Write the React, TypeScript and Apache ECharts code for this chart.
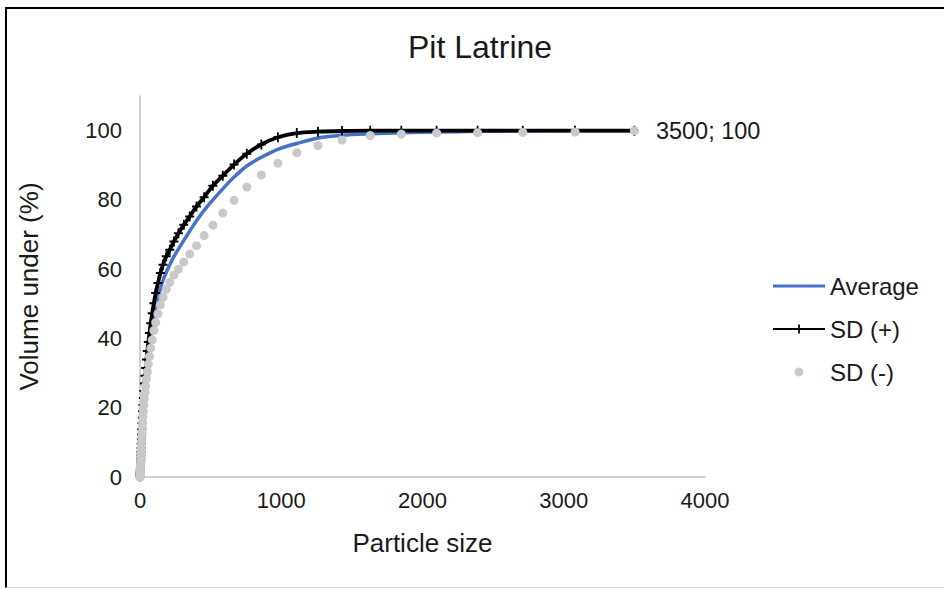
import React, { useEffect, useRef } from "react";
import * as echarts from "echarts";

const particleSize = [0.523, 0.594, 0.675, 0.767, 0.872, 0.991, 1.13, 1.28, 1.45, 1.65, 1.88, 2.13, 2.42, 2.75, 3.12, 3.55, 4.03, 4.58, 5.21, 5.92, 6.72, 7.64, 8.68, 9.86, 11.2, 12.7, 14.5, 16.4, 18.7, 21.2, 24.1, 27.4, 31.1, 35.3, 40.1, 45.6, 51.8, 58.9, 66.9, 76.0, 86.4, 98.1, 111, 127, 144, 163, 186, 211, 240, 272, 310, 352, 400, 454, 516, 586, 666, 756, 859, 976, 1110, 1260, 1430, 1630, 1850, 2100, 2390, 2710, 3080, 3500];

const averageValues = [0, 0, 0.03, 0.06, 0.12, 0.2, 0.3, 0.45, 0.6, 0.8, 1.0, 1.3, 1.6, 2.0, 2.5, 3.0, 3.6, 4.3, 5.0, 5.8, 6.7, 7.7, 8.8, 10.0, 11.3, 12.7, 14.2, 15.8, 17.4, 19.1, 20.9, 22.8, 24.8, 26.8, 28.9, 31.1, 33.4, 35.8, 38.2, 40.8, 43.4, 46.1, 48.8, 51.6, 54.3, 56.8, 59.1, 61.3, 63.6, 65.8, 68.3, 71.0, 74.0, 77.0, 80.0, 83.2, 86.6, 89.8, 92.3, 94.6, 96.3, 97.9, 98.7, 99.1, 99.4, 99.6, 99.8, 99.9, 100, 100];

const sdPlusValues = [0, 0, 0.04, 0.08, 0.15, 0.25, 0.35, 0.5, 0.7, 0.9, 1.1, 1.4, 1.7, 2.2, 2.7, 3.3, 3.9, 4.7, 5.4, 6.3, 7.3, 8.4, 9.6, 10.9, 12.3, 13.8, 15.5, 17.2, 19.0, 20.8, 22.8, 24.8, 27.0, 29.2, 31.5, 33.9, 36.4, 39.0, 41.6, 44.4, 47.3, 50.2, 53.1, 56.0, 58.9, 61.3, 63.7, 65.6, 68.0, 70.4, 72.8, 75.2, 78.1, 80.8, 84.1, 87.0, 90.2, 93.3, 96.0, 98.1, 99.3, 99.7, 99.9, 100, 100, 100, 100, 100, 100, 100];

const sdMinusValues = [0, 0, 0.02, 0.05, 0.1, 0.15, 0.25, 0.4, 0.5, 0.7, 0.9, 1.2, 1.5, 1.8, 2.3, 2.7, 3.3, 3.9, 4.6, 5.3, 6.1, 7.0, 8.0, 9.1, 10.3, 11.6, 12.9, 14.4, 15.8, 17.4, 19.0, 20.8, 22.6, 24.4, 26.3, 28.3, 30.4, 32.6, 34.8, 37.2, 39.6, 42.3, 44.6, 47.1, 49.7, 51.9, 54.2, 56.2, 58.3, 60.0, 62.1, 64.4, 66.8, 69.7, 72.7, 76.2, 79.9, 83.7, 87.2, 90.6, 93.6, 95.7, 97.3, 98.6, 99.0, 99.3, 99.4, 99.5, 99.6, 100];

const seriesNames = ["Average", "SD (+)", "SD (-)"];
const chartTitle = "Pit Latrine";
const xAxisTitle = "Particle size";
const yAxisTitle = "Volume under (%)";

const FONT = "'Liberation Sans', Arial, sans-serif";
const TEXT = "#1a1a1a";
const PLUS = "path://M4,0 h2 v4 h4 v2 h-4 v4 h-2 v-4 h-4 v-2 h4 z";
const LINE_ICON = "path://M0,0 H52 V3 H0 Z";

export default function App() {
  const ref = useRef<HTMLDivElement>(null);

  useEffect(() => {
    if (!ref.current) return;
    const chart = echarts.init(ref.current, undefined, { renderer: "svg" });
    const pairs = (vals: number[]) => particleSize.map((x, i) => [x, vals[i]]);
    const minusData: any[] = pairs(sdMinusValues);
    const last = minusData.length - 1;
    minusData[last] = {
      value: minusData[last],
      label: {
        show: true,
        position: "right",
        distance: 17,
        formatter: (p: any) => `${p.value[0]}; ${p.value[1]}`,
        fontSize: 23.5,
        fontFamily: FONT,
        color: TEXT,
      },
    };

    chart.setOption({
      animation: false,
      backgroundColor: "#ffffff",
      textStyle: { fontFamily: FONT, color: TEXT },
      title: {
        text: chartTitle,
        left: 408,
        top: 31,
        padding: 0,
        textStyle: { fontSize: 32, fontWeight: "normal", color: TEXT, fontFamily: FONT },
      },
      grid: { left: 140, right: 239, top: 96, bottom: 112, containLabel: false },
      legend: {
        orient: "vertical",
        left: 772,
        top: 274,
        padding: 0,
        itemWidth: 52,
        itemHeight: 11,
        itemGap: 19,
        data: [
          { name: seriesNames[0], icon: LINE_ICON },
          { name: seriesNames[1] },
          { name: seriesNames[2] },
        ],
        textStyle: { fontSize: 24, color: TEXT, fontFamily: FONT },
      },
      xAxis: {
        type: "value",
        min: 0,
        max: 4000,
        interval: 1000,
        name: xAxisTitle,
        nameLocation: "middle",
        nameGap: 53,
        nameTextStyle: { fontSize: 26, color: TEXT, fontFamily: FONT },
        axisLine: { show: true, lineStyle: { color: "#bfbfbf", width: 1.5 } },
        axisTick: { show: false },
        splitLine: { show: false },
        axisLabel: { fontSize: 22, color: TEXT, margin: 12, fontFamily: FONT, formatter: (v: number) => String(v) },
      },
      yAxis: {
        type: "value",
        min: 0,
        max: 110,
        interval: 20,
        name: yAxisTitle,
        nameLocation: "middle",
        nameGap: 98,
        nameTextStyle: { fontSize: 26, color: TEXT, fontFamily: FONT },
        axisLine: { show: true, lineStyle: { color: "#bfbfbf", width: 1.5 } },
        axisTick: { show: false },
        splitLine: { show: false },
        axisLabel: {
          fontSize: 22,
          color: TEXT,
          margin: 18,
          fontFamily: FONT,
          showMaxLabel: false,
          formatter: (v: number) => (v > 100 ? "" : String(v)),
        },
      },
      series: [
        {
          name: seriesNames[0],
          type: "line",
          data: pairs(averageValues),
          symbol: "none",
          smooth: 0.3,
          clip: false,
          lineStyle: { color: "#4472C4", width: 3.5 },
          itemStyle: { color: "#4472C4" },
          z: 2,
        },
        {
          name: seriesNames[1],
          type: "line",
          data: pairs(sdPlusValues),
          symbol: PLUS,
          symbolSize: [9, 10],
          showSymbol: true,
          smooth: 0.3,
          clip: false,
          lineStyle: { color: "#000000", width: 3.8 },
          itemStyle: { color: "#000000" },
          z: 3,
        },
        {
          name: seriesNames[2],
          type: "line",
          data: minusData,
          symbol: "circle",
          symbolSize: 9,
          showSymbol: true,
          clip: false,
          lineStyle: { width: 0, opacity: 0, color: "#c9c9c9" },
          itemStyle: { color: "#c9c9c9" },
          z: 4,
        },
      ],
    });
    return () => chart.dispose();
  }, []);

  return (
    <div style={{ position: "fixed", left: 0, top: 0, width: 944, height: 589, background: "#fff", overflow: "hidden" }}>
      <div ref={ref} style={{ position: "absolute", left: 0, top: 0, width: 944, height: 589 }} />
      <div
        style={{
          position: "absolute",
          left: 5,
          top: 7,
          width: 960,
          height: 581,
          borderLeft: "2.5px solid #000",
          borderTop: "2.5px solid #000",
          borderBottom: "1px solid #d9d9d9",
          pointerEvents: "none",
          boxSizing: "border-box",
        }}
      />
    </div>
  );
}
